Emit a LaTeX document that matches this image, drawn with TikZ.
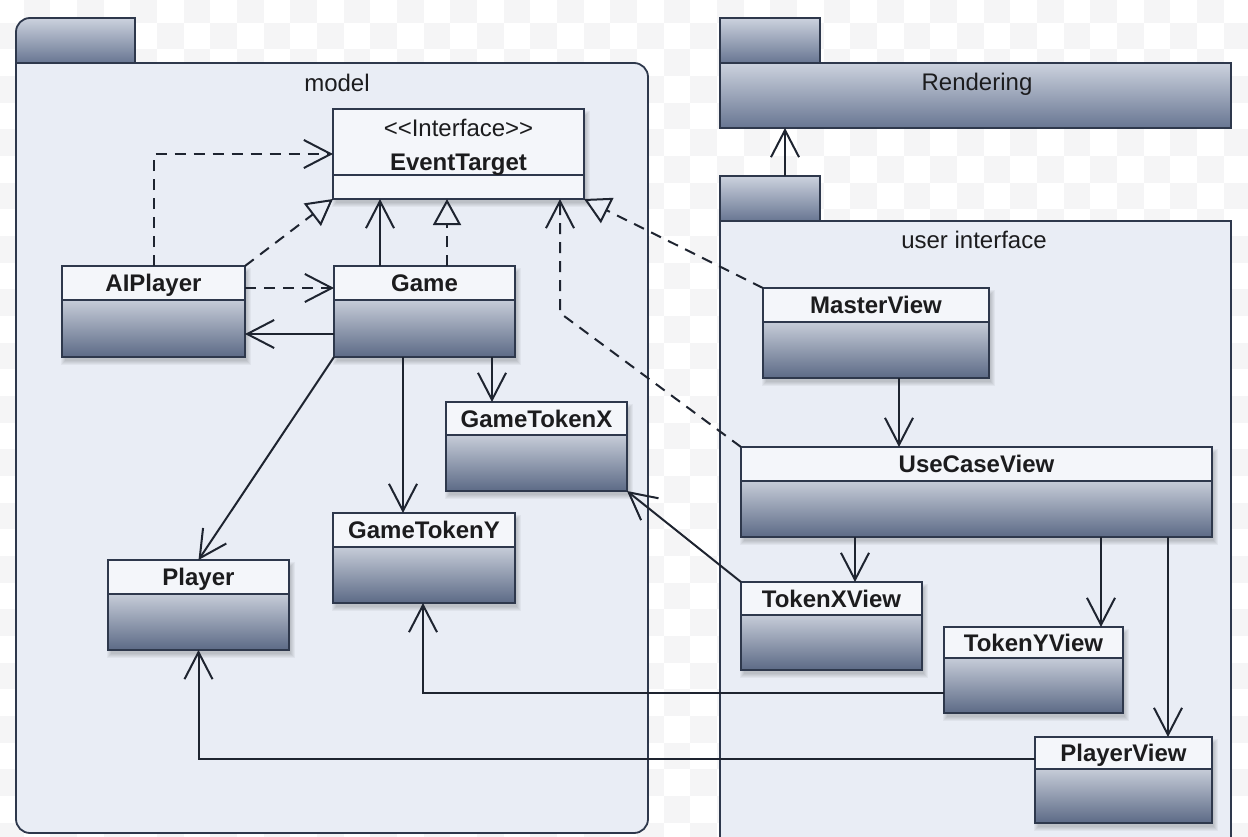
\documentclass[tikz,border=0pt]{standalone}
\usepackage{fontspec}
\setmainfont{Liberation Sans}
\usetikzlibrary{arrows.meta}

\definecolor{pkgfill}{RGB}{233,237,245}
\definecolor{headfill}{RGB}{244,246,250}
\definecolor{bodytop}{RGB}{198,204,216}
\definecolor{bodybot}{RGB}{92,106,134}
\definecolor{tabtop}{RGB}{204,210,222}
\definecolor{tabbot}{RGB}{104,118,146}
\definecolor{edgecol}{RGB}{30,36,48}
\definecolor{framecol}{RGB}{46,56,76}
\definecolor{txtcol}{RGB}{28,28,30}
\definecolor{checkgray}{RGB}{245,245,246}

\tikzset{
  frameline/.style={draw=framecol, line width=1.8pt},
  boxframe/.style={frameline, rectangle, inner sep=0pt, outer sep=0pt},
  hiddenbox/.style={rectangle, inner sep=0pt, outer sep=0pt},
  classname/.style={font=\bfseries\fontsize{24}{28}\selectfont, text=txtcol,
    inner sep=0pt, text height=17pt, text depth=0pt},
  plainlabel/.style={font=\fontsize{24}{28}\selectfont, text=txtcol,
    inner sep=0pt, text height=17pt, text depth=0pt},
  conn/.style={draw=edgecol, line width=2pt},
  assoc/.style={conn, -{Straight Barb[length=27pt, width=28pt, line width=2pt]}},
  dep/.style={assoc, dash pattern=on 11pt off 8pt},
  realize/.style={conn, dash pattern=on 11pt off 8pt,
    -{Triangle[open, length=26pt, width=28pt, line width=2pt]}},
}

% class box: name, left, top, right, bottom, divider, title
\newcommand{\umlclass}[7]{%
  \foreach \k in {0,...,4}
    \fill[black, opacity=0.04] ({#2+3-\k},{#3+6-\k}) rectangle ({#4+2+\k},{#5+4+\k});
  \fill[headfill] (#2,#3) rectangle (#4,#6);
  \shade[top color=bodytop, bottom color=bodybot] (#2,#6) rectangle (#4,#5);
  \draw[frameline] (#2,#6) -- (#4,#6);
  \node[boxframe, minimum width={#4pt-#2pt}, minimum height={#5pt-#3pt},
        anchor=north west] (#1) at (#2,#3) {};
  \node[classname] (#1-title) at ({(#2+#4)/2},{(#3+#6)/2}) {#7};
}

\begin{document}
\begin{tikzpicture}[x=1pt, y=-1pt]
\useasboundingbox (0,0) rectangle (1248,836);

% faint checkered backdrop
\fill[white] (0,0) rectangle (1248,836);
\foreach \i in {0,...,47}
  \foreach \j in {0,...,32}
    {\ifodd\numexpr\i+\j\relax
       \fill[checkgray] ({\i*26.67-3},{\j*26.67-4}) rectangle ({\i*26.67+23.67},{\j*26.67+22.67});
     \fi}

% ---- package: model ----
\shade[top color=tabtop, bottom color=tabbot, draw=framecol, line width=1.8pt]
  (16,63) -- (16,32) arc[start angle=180, end angle=270, radius=14] -- (135,18) -- (135,63) -- cycle;
\filldraw[fill=pkgfill, draw=framecol, line width=1.8pt]
  (16,63) -- (634,63) arc[start angle=270, end angle=360, radius=14]
  -- (648,819) arc[start angle=0, end angle=90, radius=14]
  -- (30,833) arc[start angle=90, end angle=180, radius=14] -- cycle;
\node[hiddenbox, minimum width=632pt, minimum height=770pt, anchor=north west] (modelpkg) at (16,63) {};
\node[plainlabel] (modellabel) at (337,83) {model};

% ---- package: Rendering ----
\shade[top color=tabtop, bottom color=tabbot, draw=framecol, line width=1.8pt]
  (720,18) rectangle (820,63);
\shade[top color=tabtop, bottom color=tabbot, draw=framecol, line width=1.8pt]
  (720,63) rectangle (1231,128);
\node[hiddenbox, minimum width=511pt, minimum height=65pt, anchor=north west] (renderpkg) at (720,63) {};
\node[plainlabel] (renderlabel) at (977,82) {Rendering};

% ---- package: user interface ----
\shade[top color=tabtop, bottom color=tabbot, draw=framecol, line width=1.8pt]
  (720,176) rectangle (820,221);
\node[hiddenbox, minimum width=100pt, minimum height=45pt, anchor=north west] (uitab) at (720,176) {};
\filldraw[fill=pkgfill, draw=framecol, line width=1.8pt] (720,850) -- (720,221) -- (1231,221) -- (1231,850);
\node[hiddenbox, minimum width=511pt, minimum height=620pt, anchor=north west] (uipkg) at (720,221) {};
\node[plainlabel] (uilabel) at (974,240) {user interface};

% ---- interface EventTarget ----
\foreach \k in {0,...,4}
  \fill[black, opacity=0.04] ({333+3-\k},{109+6-\k}) rectangle ({584+2+\k},{199+4+\k});
\fill[headfill] (333,109) rectangle (584,199);
\draw[frameline] (333,175) -- (584,175);
\node[boxframe, minimum width=251pt, minimum height=90pt, anchor=north west] (EventTarget) at (333,109) {};
\node[plainlabel] (etstereo) at (458.5,128) {<{}<Interface>{}>};
\node[classname] (ettitle) at (458.5,162) {EventTarget};

% ---- classes ----
\umlclass{AIPlayer}{62}{266}{245}{357}{300}{AIPlayer}
\umlclass{Game}{334}{266}{515}{357}{300}{Game}
\umlclass{GameTokenX}{446}{402}{627}{491}{435}{GameTokenX}
\umlclass{GameTokenY}{333}{513}{515}{603}{547}{GameTokenY}
\umlclass{Player}{108}{560}{289}{650}{594}{Player}
\umlclass{MasterView}{763}{288}{989}{378}{322}{MasterView}
\umlclass{UseCaseView}{741}{447}{1212}{537}{481}{UseCaseView}
\umlclass{TokenXView}{741}{582}{922}{670}{615}{TokenXView}
\umlclass{TokenYView}{944}{627}{1123}{713}{658}{TokenYView}
\umlclass{PlayerView}{1035}{737}{1212}{823}{769}{PlayerView}

% ---- relations ----
\coordinate (ucvbend) at (560,313);

\draw[dep] (AIPlayer.north) |- (EventTarget.west);
\draw[realize] (AIPlayer.north east) -- (EventTarget.south west);
\draw[assoc] (380,0 |- Game.north) -- (380,0 |- EventTarget.south);
\draw[realize] (447,0 |- Game.north) -- (447,0 |- EventTarget.south);
\draw[dep] (UseCaseView.north west) -- (ucvbend) -- (ucvbend |- EventTarget.south);
\draw[realize] (MasterView.north west) -- (EventTarget.south east);

\draw[dep] (AIPlayer.east |- 0,288) -- (Game.west |- 0,288);
\draw[assoc] (Game.west |- 0,334) -- (AIPlayer.east |- 0,334);
\draw[assoc] (Game.south west) -- (Player.north);
\draw[assoc] (403,0 |- Game.south) -- (403,0 |- GameTokenY.north);
\draw[assoc] (492,0 |- Game.south) -- (492,0 |- GameTokenX.north);

\draw[assoc] (TokenXView.north west) -- (GameTokenX.south east);
\draw[assoc] (899,0 |- MasterView.south) -- (899,0 |- UseCaseView.north);
\draw[assoc] (855,0 |- UseCaseView.south) -- (855,0 |- TokenXView.north);
\draw[assoc] (1101,0 |- UseCaseView.south) -- (1101,0 |- TokenYView.north);
\draw[assoc] (1168,0 |- UseCaseView.south) -- (1168,0 |- PlayerView.north);

\draw[assoc] (TokenYView.west |- 0,693) -| (423,0 |- GameTokenY.south);
\draw[assoc] (PlayerView.west |- 0,759) -| (Player.south);

\draw[assoc] (785,0 |- uitab.north) -- (785,0 |- renderpkg.south);
\end{tikzpicture}
\end{document}
